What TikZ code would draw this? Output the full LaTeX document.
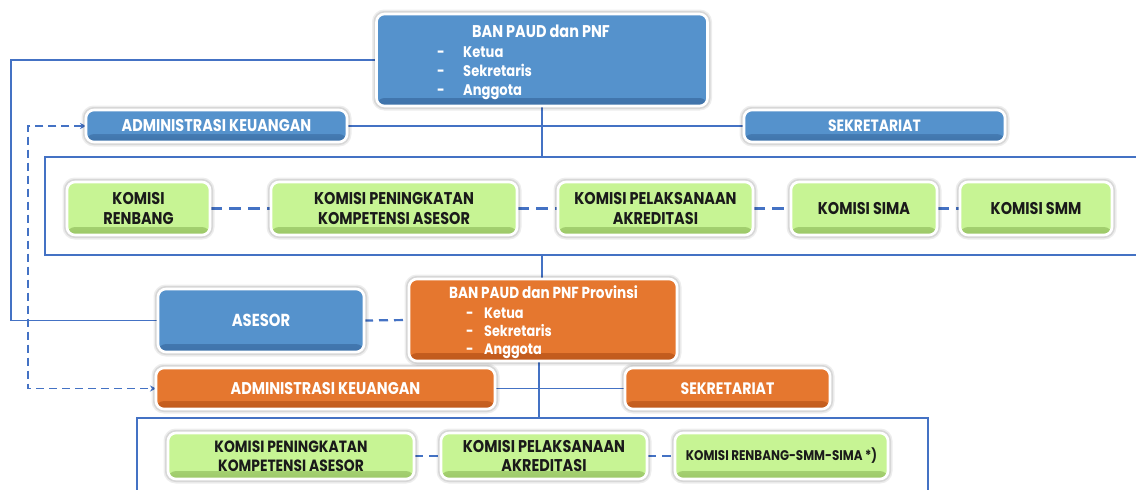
\documentclass[tikz,border=0pt]{standalone}
\usepackage{fontspec}
\newfontfamily\cg[FakeStretch=0.85]{Poppins}
\usetikzlibrary{arrows.meta,backgrounds}
\definecolor{bmain}{HTML}{5592CC}
\definecolor{bdark}{HTML}{3F73AA}
\definecolor{omain}{HTML}{E5772F}
\definecolor{odark}{HTML}{C05A1C}
\definecolor{gmain}{HTML}{C7F494}
\definecolor{gdark}{HTML}{9CC868}
\definecolor{lineb}{HTML}{4472C4}
\definecolor{gtext}{HTML}{1A1A1A}
\begin{document}
\begin{tikzpicture}[x=1pt,y=-1pt,
  box/.style={rounded corners=8pt, draw=white, line width=2.6pt, outer sep=0pt, inner sep=0pt, align=center,
    preaction={draw=black, draw opacity=0.07, line width=9pt},
    preaction={draw=black, draw opacity=0.09, line width=6pt}},
  bluebox/.style={box, fill=bmain, text=white, font=\cg\bfseries\fontsize{17}{20}\selectfont,
    path picture={\shade[top color=bmain, bottom color=bdark] ([yshift=8pt]path picture bounding box.south west) rectangle (path picture bounding box.south east);}},
  orangebox/.style={box, fill=omain, text=white, font=\cg\bfseries\fontsize{17}{20}\selectfont,
    path picture={\shade[top color=omain, bottom color=odark] ([yshift=8pt]path picture bounding box.south west) rectangle (path picture bounding box.south east);}},
  greenbox/.style={box, fill=gmain, text=gtext, font=\cg\bfseries\fontsize{17}{20}\selectfont,
    path picture={\shade[top color=gmain, bottom color=gdark] ([yshift=8pt]path picture bounding box.south west) rectangle (path picture bounding box.south east);}},
  framebox/.style={draw=lineb, line width=1.4pt, inner sep=0pt, outer sep=0pt},
  conn/.style={draw=lineb, line width=1.5pt},
  dconn/.style={conn, line width=2.2pt, dash pattern=on 9pt off 6pt},
  gconn/.style={conn, line width=2.2pt, dash pattern=on 12pt off 7pt},
  wt/.style={text=white, inner sep=0pt, font=\cg\bfseries\fontsize{15.4}{19}\selectfont},
  wts/.style={text=white, inner sep=0pt, font=\cg\bfseries\fontsize{15.1}{17}\selectfont},
]
\useasboundingbox (0,0) rectangle (1136,490);

% frames
\node[framebox, minimum width=1105pt, minimum height=98pt] (f1) at (597.5,206) {};
\node[framebox, minimum width=791pt, minimum height=90pt] (f2) at (532.5,463) {};

% national level
\node[bluebox, minimum width=331pt, minimum height=92pt] (ban) at (542,60) {};
\node[wt, anchor=base, font=\cg\bfseries\fontsize{17}{20}\selectfont] (banT) at (541,37.5) {BAN PAUD dan PNF};
\node[wt, anchor=base west] (banK) at (437,57.5) {\makebox[26pt][l]{-}Ketua};
\node[wt, anchor=base west] (banS) at (437,76.5) {\makebox[26pt][l]{-}Sekretaris};
\node[wt, anchor=base west] (banA) at (437,95.5) {\makebox[26pt][l]{-}Anggota};

\node[bluebox, minimum width=261pt, minimum height=32pt] (adminB) at (216.5,126) {ADMINISTRASI KEUANGAN};
\node[bluebox, minimum width=261pt, minimum height=32pt, font=\cg\bfseries\fontsize{16.4}{20}\selectfont] (sekB) at (874.5,126) {SEKRETARIAT};

\node[greenbox, minimum width=143pt, minimum height=53pt] (ren) at (138.5,208.5) {KOMISI\\RENBANG};
\node[greenbox, minimum width=246pt, minimum height=53pt] (pen1) at (394,208.5) {KOMISI PENINGKATAN\\KOMPETENSI ASESOR};
\node[greenbox, minimum width=195pt, minimum height=53pt] (pel1) at (655.5,208.5) {KOMISI PELAKSANAAN\\AKREDITASI};
\node[greenbox, minimum width=146pt, minimum height=53pt] (sima) at (864,208.5) {KOMISI SIMA};
\node[greenbox, minimum width=152pt, minimum height=53pt] (smm) at (1036,208.5) {KOMISI SMM};

% province level
\node[bluebox, minimum width=206pt, minimum height=63pt, font=\cg\bfseries\fontsize{17.4}{21}\selectfont] (asesor) at (261,320.5) {ASESOR};
\node[orangebox, minimum width=268pt, minimum height=82pt] (prov) at (543,320) {};
\node[wts, anchor=base, font=\cg\bfseries\fontsize{16}{19}\selectfont] (provT) at (543.5,298) {BAN PAUD dan PNF Provinsi};
\node[wts, anchor=base west] (provK) at (466,318) {\makebox[18pt][l]{-}Ketua};
\node[wts, anchor=base west] (provS) at (466,336) {\makebox[18pt][l]{-}Sekretaris};
\node[wts, anchor=base west] (provA) at (466,354) {\makebox[18pt][l]{-}Anggota};

\node[orangebox, minimum width=339pt, minimum height=41pt] (adminO) at (325.5,388.5) {ADMINISTRASI KEUANGAN};
\node[orangebox, minimum width=205pt, minimum height=41pt, font=\cg\bfseries\fontsize{16.6}{20}\selectfont] (sekO) at (727.5,388.5) {SEKRETARIAT};

\node[greenbox, minimum width=246pt, minimum height=46pt, font=\cg\bfseries\fontsize{16.3}{19.5}\selectfont] (pen2) at (291,456) {KOMISI PENINGKATAN\\KOMPETENSI ASESOR};
\node[greenbox, minimum width=206pt, minimum height=46pt, font=\cg\bfseries\fontsize{17}{19.5}\selectfont] (pel2) at (544,456) {KOMISI PELAKSANAAN\\AKREDITASI};
\node[greenbox, minimum width=213pt, minimum height=46pt, font=\cg\bfseries\fontsize{14}{16}\selectfont] (rss) at (781.5,456) {KOMISI RENBANG-SMM-SIMA *)};

\coordinate (L) at (11,200);
\coordinate (D) at (28,250);

\begin{scope}[on background layer]
\fill[white] (0,0) rectangle (1136,490);
\draw[conn] (ban.west) -| (L) |- (asesor.west);
\draw[conn] (ban.south) -- (ban.south |- f1.north);
\draw[conn] (adminB.east) -- (sekB.west);
\draw[conn] (f1.south -| ban.south) -- (ban.south |- prov.north);
\draw[dconn] (asesor.east) -- (prov.west);
\draw[dconn, line width=1.9pt, dash pattern=on 8pt off 5pt, {Stealth[length=6pt,width=6pt]}-{Stealth[length=6pt,width=6pt]}] (adminB.west) -| (D) |- (adminO.west);
\draw[conn] (adminO.east) -- (sekO.west);
\draw[conn] ([xshift=-4pt]prov.south) -- ([xshift=-4pt]prov.south |- f2.north);
\draw[gconn] (ren) -- (pen1);
\draw[gconn] (pen1) -- (pel1);
\draw[gconn] (pel1) -- (sima);
\draw[gconn] (sima) -- (smm);
\draw[dconn] (pen2) -- (pel2);
\draw[dconn] (pel2) -- (rss);
\end{scope}
\end{tikzpicture}
\end{document}
